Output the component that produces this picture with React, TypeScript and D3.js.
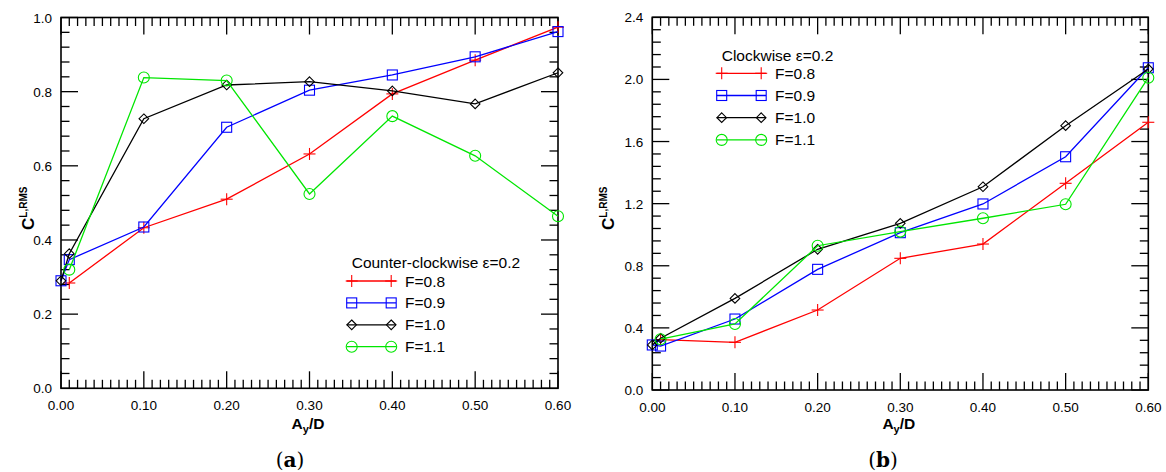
import React from "react";
import * as d3 from "d3";

// ---------- data ----------
const xValues = [0, 0.01, 0.1, 0.2, 0.3, 0.4, 0.5, 0.6];
const seriesNames = ["F=0.8", "F=0.9", "F=1.0", "F=1.1"];

// (a) Counter-clockwise ε=0.2
const ccwF08 = [null, 0.284, 0.433, 0.51, 0.632, 0.794, 0.885, 0.974];
const ccwF09 = [0.29, 0.347, 0.435, 0.704, 0.804, 0.845, 0.894, 0.962];
const ccwF10 = [0.29, 0.363, 0.727, 0.818, 0.827, 0.802, 0.767, 0.851];
const ccwF11 = [null, 0.32, 0.838, 0.83, 0.524, 0.734, 0.627, 0.464];

// (b) Clockwise ε=0.2
const cwF08 = [null, 0.325, 0.307, 0.515, 0.848, 0.94, 1.331, 1.724];
const cwF09 = [0.29, 0.283, 0.457, 0.777, 1.013, 1.198, 1.502, 2.075];
const cwF10 = [0.29, 0.333, 0.59, 0.906, 1.073, 1.309, 1.702, 2.067];
const cwF11 = [null, 0.327, 0.425, 0.929, 1.02, 1.106, 1.196, 2.011];

const xTickMajor = [0, 0.1, 0.2, 0.3, 0.4, 0.5, 0.6];
const yTickMajorA = [0, 0.2, 0.4, 0.6, 0.8, 1.0];
const yTickMajorB = [0, 0.4, 0.8, 1.2, 1.6, 2.0, 2.4];

// ---------- styles ----------
const colors = ["#ff0000", "#0000ff", "#000000", "#00e600"];
const markers = ["plus", "square", "diamond", "circle"];
const SANS = "'Liberation Sans', Arial, sans-serif";

const panels = [
  {
    id: "a",
    left: 61, right: 558, top: 17.5, bottom: 388.3,
    yMax: 1.0, yMinorStep: 0.04, yMinorN: 25,
    yMajor: yTickMajorA,
    data: [ccwF08, ccwF09, ccwF10, ccwF11],
    legendTitle: "Counter-clockwise ε=0.2",
    legendX: 346.7, legendTitleY: 267.5, legendRow0: 281, legendDy: 21.9,
    yTitleX: 33.5, label: "a", labelX: 290,
  },
  {
    id: "b",
    left: 652.3, right: 1148.3, top: 17.3, bottom: 390,
    yMax: 2.4, yMinorStep: 0.08, yMinorN: 30,
    yMajor: yTickMajorB,
    data: [cwF08, cwF09, cwF10, cwF11],
    legendTitle: "Clockwise ε=0.2",
    legendX: 716.7, legendTitleY: 61.2, legendRow0: 73.3, legendDy: 22.2,
    yTitleX: 613.5, label: "b", labelX: 883,
  },
];

function Marker({ type, x, y, color }: { type: string; x: number; y: number; color: string }) {
  const sw = 1.1;
  if (type === "plus") {
    const h = 6;
    return (
      <g stroke={color} strokeWidth={sw}>
        <line x1={x - h} x2={x + h} y1={y} y2={y} />
        <line x1={x} x2={x} y1={y - h} y2={y + h} />
      </g>
    );
  }
  if (type === "square") {
    const h = 5;
    return <rect x={x - h} y={y - h} width={2 * h} height={2 * h} fill="none" stroke={color} strokeWidth={sw} />;
  }
  if (type === "diamond") {
    const h = 4.8;
    return (
      <path d={`M${x},${y - h}L${x + h},${y}L${x},${y + h}L${x - h},${y}Z`} fill="none" stroke={color} strokeWidth={sw} />
    );
  }
  return <circle cx={x} cy={y} r={5.5} fill="none" stroke={color} strokeWidth={sw} />;
}

function Panel({ p }: { p: any }) {
  const x = d3.scaleLinear().domain([0, 0.6]).range([p.left, p.right]);
  const y = d3.scaleLinear().domain([0, p.yMax]).range([p.bottom, p.top]);
  const fx = d3.format(".2f");
  const fy = d3.format(".1f");
  const majLen = 17;
  const minLen = 8.5;

  const xMinor = d3.range(0, 61).map((i) => ({ v: i / 100, major: i % 10 === 0 }));
  const yMinor = d3.range(0, p.yMinorN + 1).map((i) => ({ v: i * p.yMinorStep, major: i % 5 === 0 }));

  const line = d3
    .line<number | null>()
    .defined((d) => d != null)
    .x((_, i) => x(xValues[i]))
    .y((d) => y(d as number));

  const cx = (p.left + p.right) / 2 - 1.5;

  return (
    <g>
      {/* ticks */}
      <g stroke="#000" strokeWidth={1.3}>
        {xMinor.map((t, i) => {
          const L = t.major ? majLen : minLen;
          return (
            <g key={"xt" + i}>
              <line x1={x(t.v)} x2={x(t.v)} y1={p.bottom} y2={p.bottom - L} />
              <line x1={x(t.v)} x2={x(t.v)} y1={p.top} y2={p.top + L} />
            </g>
          );
        })}
        {yMinor.map((t, i) => {
          const L = t.major ? majLen : minLen;
          return (
            <g key={"yt" + i}>
              <line x1={p.left} x2={p.left + L} y1={y(t.v)} y2={y(t.v)} />
              <line x1={p.right} x2={p.right - L} y1={y(t.v)} y2={y(t.v)} />
            </g>
          );
        })}
      </g>
      {/* frame */}
      <rect x={p.left} y={p.top} width={p.right - p.left} height={p.bottom - p.top} fill="none" stroke="#000" strokeWidth={1.6} />
      {/* tick labels */}
      <g fontFamily={SANS} fontSize={13.5} fill="#000">
        {xTickMajor.map((v) => (
          <text key={"xl" + v} x={x(v)} y={p.bottom + 21.5} textAnchor="middle">
            {fx(v)}
          </text>
        ))}
        {p.yMajor.map((v: number) => (
          <text key={"yl" + v} x={p.left - 9} y={y(v) + 5} textAnchor="end">
            {fy(v)}
          </text>
        ))}
      </g>
      {/* series */}
      {p.data.map((s: (number | null)[], si: number) => (
        <g key={"s" + si}>
          <path d={line(s) || ""} fill="none" stroke={colors[si]} strokeWidth={1.3} />
          {s.map((v, i) =>
            v == null ? null : <Marker key={i} type={markers[si]} x={x(xValues[i])} y={y(v)} color={colors[si]} />
          )}
        </g>
      ))}
      {/* legend */}
      <g fontFamily={SANS} fontSize={15.5} fill="#000">
        <text x={p.legendX + 5} y={p.legendTitleY}>
          {p.legendTitle}
        </text>
        {seriesNames.map((n, i) => {
          const ry = p.legendRow0 + i * p.legendDy;
          return (
            <g key={"lg" + i}>
              <line x1={p.legendX} x2={p.legendX + 49.3} y1={ry} y2={ry} stroke={colors[i]} strokeWidth={1.3} />
              <Marker type={markers[i]} x={p.legendX + 5} y={ry} color={colors[i]} />
              <Marker type={markers[i]} x={p.legendX + 44.5} y={ry} color={colors[i]} />
              <text x={p.legendX + 58.3} y={ry + 5.5}>
                {n}
              </text>
            </g>
          );
        })}
      </g>
      {/* axis titles */}
      <text x={cx} y={429} textAnchor="middle" fontFamily={SANS} fontWeight="bold" fontSize={15.5} fill="#000">
        A<tspan fontSize={11} dy={4}>y</tspan>
        <tspan dy={-4}>/D</tspan>
      </text>
      <text
        transform={`translate(${p.yTitleX},230) rotate(-90)`}
        fontFamily={SANS}
        fontWeight="bold"
        fontSize={17}
        fill="#000"
      >
        C<tspan fontSize={10} dy={-7}>L,RMS</tspan>
      </text>
      {/* panel label */}
      <text x={p.labelX} y={467} textAnchor="middle" fontFamily="'DejaVu Serif', serif" fontSize={20} fill="#000">
        (<tspan fontWeight="bold">{p.label}</tspan>)
      </text>
    </g>
  );
}

export default function App() {
  return (
    <svg
      width={1166}
      height={472}
      viewBox="0 0 1166 472"
      style={{ position: "absolute", left: 0, top: 0, background: "#fff" }}
    >
      <rect width={1166} height={472} fill="#fff" />
      {panels.map((p) => (
        <Panel key={p.id} p={p} />
      ))}
    </svg>
  );
}
